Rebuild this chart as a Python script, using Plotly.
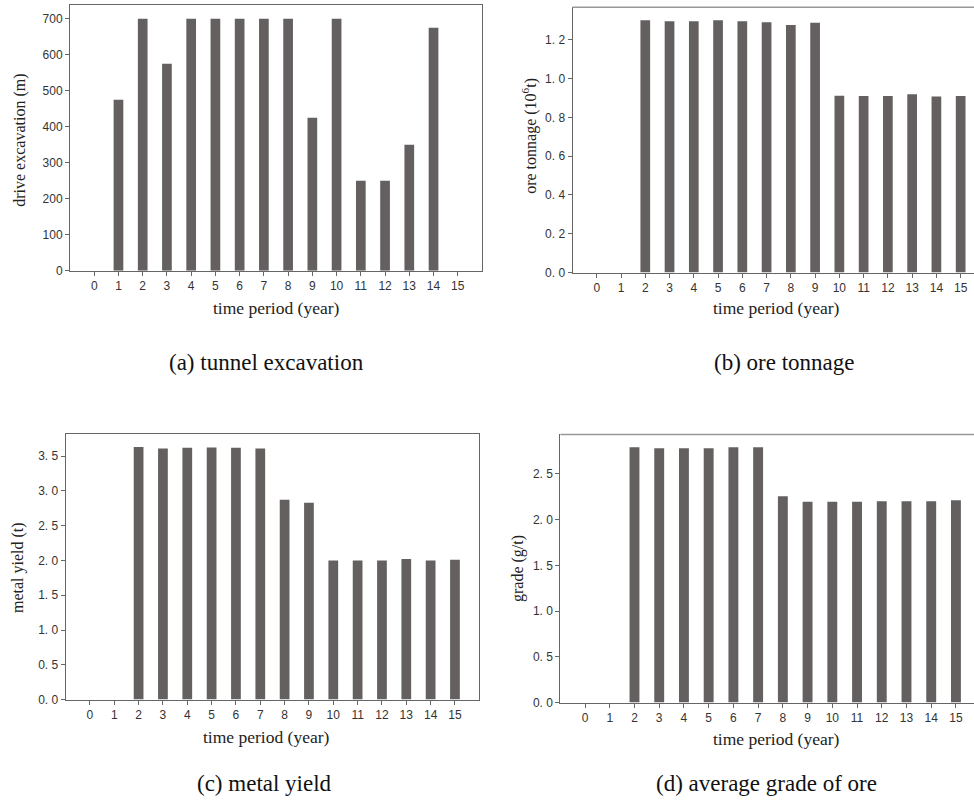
import plotly.graph_objects as go

years = list(range(16))
drive_excavation = [0, 475, 700, 575, 700, 700, 700, 700, 700, 425, 700, 250, 250, 350, 675, 0]
ore_tonnage = [0, 0, 1.300, 1.295, 1.295, 1.300, 1.295, 1.290, 1.275, 1.287, 0.911, 0.910, 0.910, 0.919, 0.907, 0.910]
metal_yield = [0, 0, 3.63, 3.61, 3.62, 3.625, 3.62, 3.61, 2.873, 2.83, 2.00, 2.00, 2.00, 2.023, 2.00, 2.01]
grade = [0, 0, 2.79, 2.78, 2.78, 2.78, 2.79, 2.79, 2.256, 2.195, 2.195, 2.195, 2.20, 2.20, 2.20, 2.21]

yticks_a = [0, 100, 200, 300, 400, 500, 600, 700]
yticks_b = [0, 0.2, 0.4, 0.6, 0.8, 1.0, 1.2]
yticks_c = [0, 0.5, 1.0, 1.5, 2.0, 2.5, 3.0, 3.5]
yticks_d = [0, 0.5, 1.0, 1.5, 2.0, 2.5]

W, H = 974, 807
BAR = "#63605f"
LINE = "#666666"
TICKFONT = dict(family="Liberation Sans, Arial, sans-serif", size=12, color="#333333")
SERIF = "Liberation Serif, Times New Roman, serif"


def fx(p):
    return p / W


def fy(p):
    return 1 - p / H


def spaced(v):
    s = f"{v:.1f}"
    return s.replace(".", ". ")


panels = [
    dict(y=drive_excavation, ticks=yticks_a, labels=[str(v) for v in yticks_a],
         xd=(70, 482), yd=(5, 273), xr=[-1, 16], yr=[0, 738], mirror=True,
         ytitle="drive excavation (m)", ytx=20, yty=142,
         xtx=276, xty=311, cap="(a) tunnel excavation", cx=266, cy=366),
    dict(y=ore_tonnage, ticks=yticks_b, labels=[spaced(v) for v in yticks_b],
         xd=(572.5, 974), yd=(7.3, 275), xr=[-1, 15.55], yr=[0, 1.367], mirror=False,
         ytitle="ore tonnage (10<sup>6</sup>t)", ytx=530, yty=137,
         xtx=776, xty=311, cap="(b) ore tonnage", cx=784, cy=366),
    dict(y=metal_yield, ticks=yticks_c, labels=[spaced(v) for v in yticks_c],
         xd=(65.6, 479.3), yd=(437.7, 705.7), xr=[-1, 16], yr=[0, 3.82], mirror=True,
         ytitle="metal yield (t)", ytx=18, yty=573,
         xtx=266, xty=743, cap="(c) metal yield", cx=264, cy=790),
    dict(y=grade, ticks=yticks_d, labels=[spaced(v) for v in yticks_d],
         xd=(560.3, 974), yd=(438.3, 708.7), xr=[-1, 15.73], yr=[0, 2.93], mirror=False,
         ytitle="grade (g/t)", ytx=518, yty=574,
         xtx=776, xty=745, cap="(d) average grade of ore", cx=766, cy=790),
]

fig = go.Figure()
layout = dict(width=W, height=H, margin=dict(l=0, r=0, t=0, b=0),
              paper_bgcolor="white", plot_bgcolor="white", showlegend=False)
annotations = []
shapes = []

for i, p in enumerate(panels, start=1):
    suf = "" if i == 1 else str(i)
    fig.add_trace(go.Bar(x=years, y=p["y"], xaxis="x" + suf, yaxis="y" + suf,
                         marker=dict(color=BAR, line=dict(width=0)), width=0.4))
    layout["xaxis" + suf] = dict(
        domain=[fx(p["xd"][0]), fx(p["xd"][1])], range=p["xr"], anchor="y" + suf,
        tickmode="array", tickvals=years, ticktext=[str(v) for v in years],
        showgrid=False, zeroline=False, showline=True, linecolor=LINE, linewidth=1,
        mirror=p["mirror"], ticks="outside", ticklen=4, tickcolor=LINE,
        tickfont=TICKFONT, fixedrange=True)
    layout["yaxis" + suf] = dict(
        domain=[fy(p["yd"][1]), fy(p["yd"][0])], range=p["yr"], anchor="x" + suf,
        tickmode="array", tickvals=p["ticks"], ticktext=p["labels"],
        showgrid=False, zeroline=False, showline=True, linecolor=LINE, linewidth=1,
        mirror=p["mirror"], ticks="outside", ticklen=4, tickcolor=LINE,
        tickfont=TICKFONT, fixedrange=True)
    if not p["mirror"]:
        shapes.append(dict(type="line", xref="x" + suf + " domain", yref="y" + suf + " domain",
                           x0=0, x1=1, y0=1, y1=1, line=dict(color="#999999", width=1.5)))
    annotations.append(dict(text=p["ytitle"], x=fx(p["ytx"]), y=fy(p["yty"]),
                            xref="paper", yref="paper", textangle=-90, showarrow=False,
                            xanchor="center", yanchor="middle",
                            font=dict(family=SERIF, size=16, color="#222222")))
    annotations.append(dict(text="time period (year)", x=fx(p["xtx"]), y=fy(p["xty"]),
                            xref="paper", yref="paper", showarrow=False,
                            xanchor="center", yanchor="middle",
                            font=dict(family=SERIF, size=17.5, color="#222222")))
    annotations.append(dict(text=p["cap"], x=fx(p["cx"]), y=fy(p["cy"]),
                            xref="paper", yref="paper", showarrow=False,
                            xanchor="center", yanchor="middle",
                            font=dict(family=SERIF, size=23, color="#111111")))

layout["annotations"] = annotations
layout["shapes"] = shapes
fig.update_layout(**layout)
fig.write_html("out.html", config={"displayModeBar": False},
               post_script="document.body.style.margin='0';document.body.style.overflow='hidden';")
